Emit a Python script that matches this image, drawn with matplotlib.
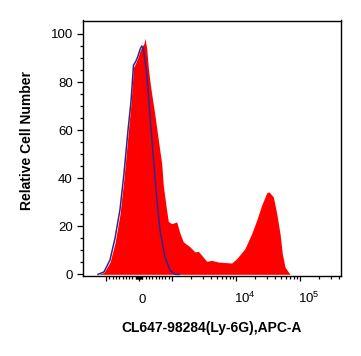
import matplotlib
matplotlib.use('Agg')
import matplotlib.pyplot as plt
from matplotlib.transforms import ScaledTranslation

plt.rcParams['font.family'] = ['Liberation Sans', 'DejaVu Sans']
plt.rcParams['mathtext.default'] = 'regular'

# stained sample (red fill), x in APC-A units
sample_x = [-1300, -1075, -879, -727, -576, -455, -333, -242, -167, -100, -39,
            30, 100, 150, 182, 233, 282, 333, 385, 485, 585, 688, 736, 833,
            888, 939, 1000, 1184, 1334, 1502, 1910, 2288, 2576, 2911, 3485,
            4170, 5290, 8570, 10250, 13800, 17600, 21050, 25200, 30200, 32800,
            38290, 43250, 48700, 52900, 58300, 69800]
sample_y = [0, 0.8, 5, 13, 25, 40, 58, 71, 86, 88, 90,
            93, 95, 96, 98.2, 94, 86, 80, 75, 66, 56, 46, 37, 27,
            22, 21.5, 21.1, 21.8, 17, 13.5, 11.4, 9.3, 9.6, 7.9, 5.4,
            5.8, 5.1, 4.7, 6.5, 10.7, 17, 22.5, 28.8, 33.9, 34.3,
            32.2, 25.3, 17, 8.6, 3, 0]

# isotype control (blue line)
iso_x = [-1334, -1075, -879, -727, -576, -455, -333, -242, -167, -100, -39,
         30, 82, 130, 233, 333, 433, 536, 636, 788, 939, 1114, 1300]
iso_y = [0, 1, 6, 15, 27, 42, 60, 72, 87, 88.5, 90.5,
         93.5, 95, 94, 84, 65.5, 49, 32, 18.3, 7.2, 1.7, 0, 0]

y_major = [0, 20, 40, 60, 80, 100]
x_major = [-1000, 0, 1000, 1e4, 1e5]
x_labels = ['', '0', '', '$10^4$', '$10^5$']
x_minor = ([-100 * k for k in range(2, 10)] + [100 * k for k in range(2, 10)]
           + [-80, -60, -40, -20, 20, 40, 60, 80, -100, 100]
           + [1000 * k for k in range(2, 10)] + [1e4 * k for k in range(2, 10)]
           + [1e5 * k for k in range(2, 5)])

fig = plt.figure(figsize=(3.61, 3.56), dpi=100)
ax = fig.add_axes([83 / 361, 1 - 276 / 356, 257.7 / 361, 255.5 / 356])
ax.set_xscale('symlog', linthresh=1000, linscale=0.464)

ax.fill_between(sample_x, sample_y, 0, color='#ff0000', lw=0)
ax.plot(iso_x, iso_y, color='#30278f', lw=1.1)

ax.set_xlim(-2288, 4.32e5)
ax.set_ylim(-0.7, 105.6)

ax.set_yticks(y_major)
ax.set_yticks(range(0, 105, 5), minor=True)
ax.set_xticks(x_major)
ax.set_xticklabels(x_labels)
ax.set_xticks(x_minor, minor=True)

ax.tick_params(which='both', direction='out', width=0.9, labelsize=9.5)
ax.tick_params(axis='y', which='major', length=4.3, pad=3)
ax.tick_params(axis='y', which='minor', length=2.2)
ax.tick_params(axis='x', which='major', length=3.5, pad=16)
ax.tick_params(axis='x', which='minor', length=2.2)
for s in ax.spines.values():
    s.set_linewidth(1.0)

for lbl in ax.get_xticklabels():
    lbl.set_va('baseline')
    if lbl.get_text().startswith('$'):
        lbl.set_ha('left')
        lbl.set_transform(lbl.get_transform() + ScaledTranslation(-2 / 100, 0, fig.dpi_scale_trans))
    else:
        lbl.set_transform(lbl.get_transform() + ScaledTranslation(3 / 100, 0, fig.dpi_scale_trans))

ax.set_ylabel('Relative Cell Number', fontsize=10, fontweight='bold')
ax.yaxis.set_label_coords(-0.19, 0.53)
ax.set_xlabel('CL647-98284(Ly-6G),APC-A', fontsize=10, fontweight='bold')
ax.xaxis.set_label_coords(0.5, -0.176)

fig.savefig('out.png', dpi=100)
